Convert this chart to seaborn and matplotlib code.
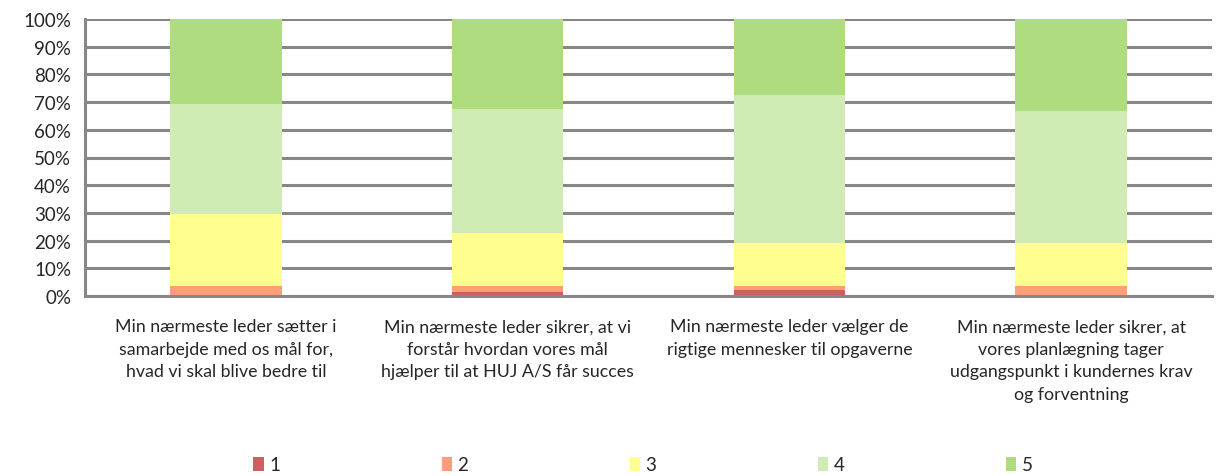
import pandas as pd
import numpy as np
import matplotlib.pyplot as plt
import seaborn as sns
from matplotlib.patches import Patch

# questions (x categories)
questions = [
    "Min nærmeste leder sætter i\nsamarbejde med os mål for,\nhvad vi skal blive bedre til",
    "Min nærmeste leder sikrer, at vi\nforstår hvordan vores mål\nhjælper til at HUJ A/S får succes",
    "Min nærmeste leder vælger de\nrigtige mennesker til opgaverne",
    "Min nærmeste leder sikrer, at\nvores planlægning tager\nudgangspunkt i kundernes krav\nog forventning",
]

# share of answers per score (percent)
score_1 = [0.0, 1.5, 2.0, 0.0]
score_2 = [3.6, 2.1, 1.6, 3.6]
score_3 = [26.1, 19.0, 15.4, 15.4]
score_4 = [39.7, 44.9, 53.7, 47.8]
score_5 = [30.6, 32.5, 27.3, 33.2]

scores = ["1", "2", "3", "4", "5"]
colors = ["#CD5F5F", "#FF9E78", "#FFFF8F", "#D1EBB5", "#B0DC80"]

df = pd.DataFrame({"q": questions, "1": score_1, "2": score_2, "3": score_3,
                   "4": score_4, "5": score_5})
cum = df[scores].cumsum(axis=1)

sns.set_style("white")
plt.rcParams["font.family"] = ["Lato", "DejaVu Sans"]

fig = plt.figure(figsize=(12.21, 4.77), dpi=100)
ax = fig.add_axes([85 / 1221, 1 - 297 / 477, (1212 - 85) / 1221, (297 - 20) / 477])

# stacked bars: draw the cumulative tops from highest to lowest
for s, c in reversed(list(zip(scores, colors))):
    sns.barplot(x=np.arange(len(questions)), y=cum[s].values, color=c,
                width=0.395, saturation=1, ax=ax, zorder=2, linewidth=0)

grey = "#878787"
ax.set_ylim(0, 100)
ax.set_xlim(-0.5, 3.5)
ax.set_yticks(np.arange(0, 101, 10))
ax.set_yticklabels([f"{v}%" for v in range(0, 101, 10)], fontsize=13.5)
ax.yaxis.grid(True, color=grey, linewidth=2.2, zorder=0)
ax.set_axisbelow(True)

ax.set_xticks([-0.5, 0.5, 1.5, 2.5, 3.5])
ax.set_xticklabels([])
ax.set_xticks(range(4), minor=True)
ax.set_xticklabels(questions, minor=True, fontsize=12.8, linespacing=1.5,
                   va="top", ha="center")
ax.tick_params(axis="x", which="minor", length=0, pad=16)
ax.tick_params(axis="x", which="major", length=6, width=2.2, color=grey, direction="out")
ax.tick_params(axis="y", length=6, width=2.2, color=grey, direction="out", pad=4)

for side in ["top", "right"]:
    ax.spines[side].set_visible(False)
for side in ["left", "bottom"]:
    ax.spines[side].set_color(grey)
    ax.spines[side].set_linewidth(2.2)
ax.set_xlabel("")
ax.set_ylabel("")

handles = [Patch(facecolor=c, edgecolor="none", label=s) for s, c in zip(scores, colors)]
fig.legend(handles=handles, loc="center", bbox_to_anchor=(643 / 1221, 1 - 466 / 477),
           ncol=5, frameon=False, fontsize=13.5, handlelength=0.55, handleheight=0.8,
           handletextpad=0.3, columnspacing=8.6)

fig.savefig("out.png", dpi=100)
